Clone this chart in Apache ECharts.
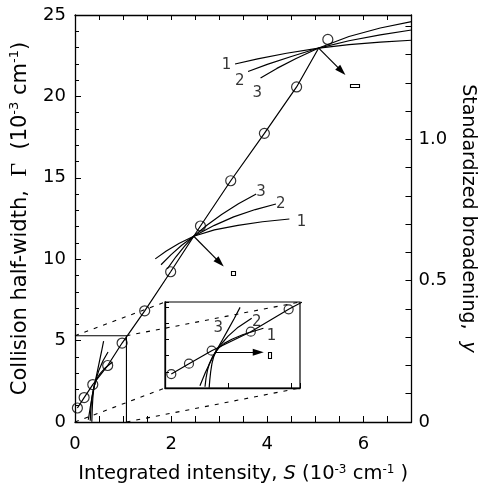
<!DOCTYPE html>
<html><head><meta charset="utf-8">
<script src="https://cdn.jsdelivr.net/npm/echarts@6/dist/echarts.min.js"></script>
<style>html,body{margin:0;padding:0;background:#fff}#c{width:485px;height:489px}</style>
</head><body><div id="c"></div>
<script>
// ---- data ----
const S = [0.05, 0.19, 0.37, 0.68, 0.98, 1.45, 1.99, 2.61, 3.24, 3.94, 4.61, 5.26];
const G = [0.86, 1.50, 2.30, 3.47, 4.85, 6.83, 9.23, 12.04, 14.82, 17.73, 20.58, 23.50];
const crossTop = [5.07, 22.97];
const crossMid = [2.47, 11.41];
const crossLow = [0.40, 2.21];
// curve families (1, 2, 3) around each crossing point
const top1 = [[3.33,21.99],[3.8,22.30],[4.4,22.65],[5.07,22.97],[5.7,23.18],[6.35,23.33],[7.0,23.45]];
const top2 = [[3.60,21.53],[4.0,21.97],[4.5,22.45],[5.07,22.97],[5.7,23.42],[6.35,23.78],[7.0,24.08]];
const top3 = [[3.86,21.13],[4.2,21.72],[4.6,22.33],[5.07,22.97],[5.7,23.68],[6.35,24.20],[7.0,24.59]];
const mid1 = [[1.67,10.02],[1.9,10.50],[2.17,10.98],[2.47,11.41],[2.9,11.80],[3.39,12.08],[3.9,12.30],[4.46,12.47]];
const mid2 = [[1.79,9.66],[2.0,10.28],[2.22,10.86],[2.47,11.41],[2.9,12.08],[3.3,12.60],[3.75,13.05],[4.18,13.39]];
const mid3 = [[1.92,9.41],[2.1,10.15],[2.28,10.80],[2.47,11.41],[2.75,12.10],[3.05,12.75],[3.4,13.40],[3.77,14.00]];
const low1 = [[0.35,0.02],[0.355,0.5],[0.362,1.0],[0.372,1.5],[0.385,1.9],[0.40,2.21],[0.43,2.50],[0.47,2.75],[0.53,3.00],[0.62,3.30],[0.78,3.68]];
const low2 = [[0.317,0.08],[0.325,0.6],[0.337,1.1],[0.352,1.5],[0.375,1.9],[0.40,2.21],[0.44,2.65],[0.50,3.20],[0.58,3.75],[0.687,4.30]];
const low3 = [[0.277,0.14],[0.32,0.95],[0.36,1.62],[0.40,2.21],[0.45,2.90],[0.50,3.60],[0.55,4.30],[0.595,4.97]];
// arrows (start = crossing, end) and target rectangles
const arrowTopEnd = [5.546, 21.55];
const arrowMidEnd = [3.014, 9.79];
const arrowLowEnd = [0.739, 2.21];
const rectTop = [5.82, 20.70];
const rectMid = [3.285, 9.13];
const rectLow = [0.832, 2.02];
// curve labels
const topLabels = [[3.154,21.94,'1'],[3.43,20.92,'2'],[3.79,20.21,'3']];
const midLabels = [[3.87,14.14,'3'],[4.28,13.39,'2'],[4.71,12.30,'1']];
const lowLabels = [[0.422,3.69,'3'],[0.727,4.09,'2'],[0.845,3.17,'1']];
// zoom window (magnified in the inset)
const zoomX = [0, 1.07];
const zoomY = [0, 5.3];
// right axis: Γ value corresponding to y = 1
const gammaPerY = 17.36;
const xTickLabels = ['0','2','4','6'];
const yRightLabels = ['0','0.5','1.0'];

// ---- chart ----
const chart = echarts.init(document.getElementById('c'), null, {renderer:'canvas'});
const K = '#000';
const F = 'DejaVu Sans';
const pts = S.map((s,i)=>[s,G[i]]);
const fitLine = pts.slice(0, 11).concat([crossTop]);

function ln(data, xi, yi, extra) {
  return Object.assign({type:'line', data, xAxisIndex:xi, yAxisIndex:yi, symbol:'none',
    lineStyle:{color:K, width:1.2}, silent:true, animation:false, z:3}, extra||{});
}
function curve(data, xi, yi) { return ln(data, xi, yi, {smooth:false}); }
function circles(data, xi, yi, size) {
  return {type:'scatter', data, xAxisIndex:xi, yAxisIndex:yi, symbol:'circle', symbolSize:size,
    itemStyle:{color:'rgba(0,0,0,0)', borderColor:K, borderWidth:1.2}, silent:true, animation:false, z:4};
}
// small hollow rectangle marker, drawn by a custom series at a data point
function rect(p, xi, yi, w, h) {
  return {type:'custom', data:[p], xAxisIndex:xi, yAxisIndex:yi, silent:true, animation:false, z:4,
    renderItem:(params, api)=>{
      const c = api.coord([api.value(0), api.value(1)]);
      return {type:'rect', shape:{x:Math.round(c[0]-w/2)+0.5, y:Math.round(c[1]-h/2)+0.5, width:w, height:h},
        style:{fill:'none', stroke:K, lineWidth:1.1}};
    }};
}
function labels(data, xi, yi, fs) {
  return {type:'scatter', data, xAxisIndex:xi, yAxisIndex:yi, symbol:'circle', symbolSize:1,
    itemStyle:{color:'rgba(0,0,0,0)'}, silent:true, animation:false, z:5,
    label:{show:true, position:'inside', formatter:p=>p.value[2], fontFamily:F, fontSize:fs, color:K}};
}
function arrows(list, xi, yi) {
  return {type:'line', data:[], xAxisIndex:xi, yAxisIndex:yi, silent:true, animation:false,
    markLine:{silent:true, animation:false, symbol:['none','triangle'], symbolSize:[7,11],
      lineStyle:{color:K, width:1.2, type:'solid'}, label:{show:false},
      emphasis:{disabled:true},
      data:list.map(a=>[{coord:a[0]},{coord:a[1]}])}};
}

const axLine = {show:true, onZero:false, lineStyle:{color:K, width:1.3}};
function richFor(fs) {
  return {
    i:{fontFamily:F, fontSize:fs, fontStyle:'italic', color:K},
    g:{fontFamily:'Liberation Serif', fontSize:fs+3, color:K},
    sup:{fontFamily:F, fontSize:Math.round(fs*0.63), verticalAlign:'top', color:K}
  };
}
const nameStyle = fs => ({fontFamily:F, fontSize:fs, color:K, rich:richFor(fs)});

const option = {
  animation:false,
  backgroundColor:'#fff',
  grid:[
    {left:75, top:15, width:341, height:409, show:false},
    {left:165, top:302, width:135, height:86, show:true, borderColor:K, borderWidth:1.2, backgroundColor:'rgba(0,0,0,0)'}
  ],
  xAxis:[
    {gridIndex:0, type:'value', min:0, max:7, interval:1, position:'bottom', axisLine:axLine,
     axisTick:{show:true, inside:true, length:6, lineStyle:{color:K}},
     minorTick:{show:true, splitNumber:2, length:6, lineStyle:{color:K}},
     splitLine:{show:false},
     axisLabel:{formatter:v=>(xTickLabels.indexOf(String(v))>=0?String(v):''), fontFamily:F, fontSize:18, color:K, margin:13},
     name:'Integrated intensity, {i|S} (10{sup|-3} cm{sup|-1} )', nameLocation:'middle', nameGap:42, nameTextStyle:nameStyle(19.5)},
    {gridIndex:0, type:'value', min:0, max:7, interval:1, position:'top', axisLine:axLine,
     axisTick:{show:true, inside:true, length:5, lineStyle:{color:K}},
     minorTick:{show:true, splitNumber:2, length:5, lineStyle:{color:K}},
     splitLine:{show:false}, axisLabel:{show:false}},
    {gridIndex:1, type:'value', min:zoomX[0], max:zoomX[1], interval:0.5, position:'bottom', axisLine:axLine,
     axisTick:{show:true, inside:true, length:5, lineStyle:{color:K}},
     splitLine:{show:false}, axisLabel:{show:false}}
  ],
  yAxis:[
    {gridIndex:0, type:'value', min:0, max:25, interval:5, position:'left', axisLine:axLine,
     axisTick:{show:true, inside:true, length:6, lineStyle:{color:K}},
     minorTick:{show:true, splitNumber:5, length:4, lineStyle:{color:K}},
     splitLine:{show:false},
     axisLabel:{fontFamily:F, fontSize:18, color:K, margin:9},
     name:'Collision half-width,  {g|Γ}  (10{sup|-3} cm{sup|-1})', nameLocation:'middle', nameGap:40, nameTextStyle:nameStyle(21)},
    {gridIndex:0, type:'value', min:0, max:25/gammaPerY, interval:0.1, position:'right', axisLine:axLine,
     axisTick:{show:true, inside:true, length:6, lineStyle:{color:K}},
     splitLine:{show:false},
     axisLabel:{showMaxLabel:false, fontFamily:F, fontSize:18, color:K, margin:7,
       formatter:v=>{const s=yRightLabels.find(t=>Math.abs(parseFloat(t)-v)<1e-6); return s||'';}},
     name:'Standardized broadening,  {i|y}', nameLocation:'middle', nameGap:30, nameRotate:-90, nameTextStyle:nameStyle(19)},
    {gridIndex:1, type:'value', min:zoomY[0], max:zoomY[1], interval:1, position:'left', axisLine:axLine,
     axisTick:{show:true, inside:true, length:4, lineStyle:{color:K}},
     splitLine:{show:false}, axisLabel:{show:false}}
  ],
  series:[
    // main panel
    ln(fitLine, 0, 0),
    circles(pts, 0, 0, 10),
    ln([[zoomX[0],zoomY[1]],[zoomX[1],zoomY[1]],[zoomX[1],zoomY[0]]], 0, 0, {lineStyle:{color:K,width:1.1}}),
    curve(top1,0,0), curve(top2,0,0), curve(top3,0,0),
    curve(mid1,0,0), curve(mid2,0,0), curve(mid3,0,0),
    curve(low1,0,0), curve(low2,0,0), curve(low3,0,0),
    arrows([[crossTop,arrowTopEnd],[crossMid,arrowMidEnd]], 0, 0),
    rect(rectTop,0,0,9,3), rect(rectMid,0,0,4,4),
    labels(topLabels,0,0,15), labels(midLabels,0,0,15),
    // inset
    ln(pts, 2, 2, {clip:true}),
    circles(pts.filter(p=>p[0]<=zoomX[1] && p[1]<=zoomY[1]), 2, 2, 9),
    curve(low1,2,2), curve(low2,2,2), curve(low3,2,2),
    arrows([[crossLow,arrowLowEnd]], 2, 2),
    rect(rectLow,2,2,3,6),
    labels(lowLabels,2,2,15)
  ]
};
chart.setOption(option);

// dashed connectors from the zoom window to the inset
const corners = [[zoomX[0],zoomY[1]],[zoomX[1],zoomY[1]],[zoomX[0],zoomY[0]],[zoomX[1],zoomY[0]]];
const g = corners.map(c=>{
  const a = chart.convertToPixel({xAxisIndex:0, yAxisIndex:0}, c);
  const b = chart.convertToPixel({gridIndex:1}, c);
  return {type:'line', silent:true, z:1, shape:{x1:a[0],y1:a[1],x2:b[0],y2:b[1]},
    style:{stroke:K, lineWidth:1.1, lineDash:[4,6]}};
});
chart.setOption({graphic:g});
</script>
</body></html>
